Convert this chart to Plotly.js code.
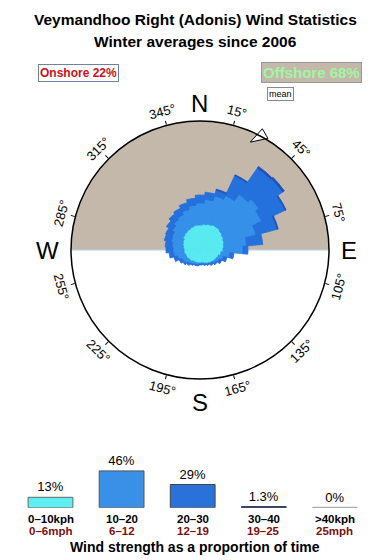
<!DOCTYPE html>
<html><head><meta charset="utf-8">
<script src="https://cdn.plot.ly/plotly-3.0.1.min.js"></script>
<style>html,body{margin:0;padding:0;background:#fff}#chart{width:390px;height:560px}</style>
</head><body><div id="chart"></div>
<script>
// ---- data ----
const directions = [0,10,20,30,40,50,60,70,80,90,100,110,120,130,140,150,160,170,180,190,200,210,220,230,240,250,260,270,280,290,300,310,320,330,340,350];
const band0_10  = [25,26,27,28,28,27,26,25,24,23,21,19,18,17,16,15,14,13,13,13,13,13,14,14,15,15,16,16,17,18,19,21,22,23,24,25];
const band10_20 = [22,25,29,32,40,45,42,33,23,20,9,5,3,2,1,1,1,1,1,2,2,3,3,5,5,8,10,11,11,12,12,13,15,16,18,20];
const band20_30 = [8,7,6,22,32,29,26,22,16,5,4,4,3,2,2,1,1,1,1,1,1,1,2,2,3,4,5,7,7,7,7,7,7,7,7,7];
const band30_40 = [0,0,1,1,2,2,1,1,0,0,0,0,0,0,0,0,0,0,0,0,0,0,0,0,0,0,0,0,0,0,0,0,0,0,0,0];
const meanArrowPosition = 25;   // degrees, where the mean marker sits on the rim
const meanArrowHeading = 240;   // degrees, direction the marker points
const speedLabels = ['0–10kph','10–20','20–30','30–40','>40kph'];
const speedLabelsMph = ['0–6mph','6–12','12–19','19–25','25mph'];
const speedShares = [13,46,29,1.3,0];
const speedShareText = ['13%','46%','29%','1.3%','0%'];
const onshorePct = 22, offshorePct = 68;
const degreeTicks = [15,45,75,105,135,165,195,225,255,285,315,345];

// ---- geometry helpers ----
const W=390,H=560, CX=200, CY=250, R=129;
const px = x => x/W, py = y => 1 - y/H;
const bandColors = ['#58eaf0','#3590ea','#2470dc','#1f50b8'];
const legendColors = ['#5ef0f0','#3a8fe6','#2a72d9','#1c2a50','#aaaaaa'];

const traces = [];
[band0_10,band10_20,band20_30,band30_40].forEach((b,i)=>{
  traces.push({type:'barpolar', r:b, theta:directions, width:10, subplot:'polar',
    marker:{color:bandColors[i], line:{width:0.8, color:bandColors[i]}}, hoverinfo:'skip', showlegend:false});
});
traces.push({type:'scatterpolar', r:[R-10], theta:[meanArrowPosition], mode:'markers', subplot:'polar',
  marker:{symbol:'arrow', angle:meanArrowHeading, size:18, color:'#ffffff', line:{color:'#000',width:1}},
  showlegend:false, hoverinfo:'skip'});

// legend bars
const xs = speedShares.map((_,i)=>i);
traces.push({type:'bar', x:xs, y:speedShares, xaxis:'x2', yaxis:'y2', width:0.63,
  marker:{color:legendColors, line:{color:['#666','#555','#444','#1c2a50','#aaa'], width:1}},
  text:speedShareText, textposition:'outside', cliponaxis:false,
  textfont:{size:13, color:'#000', family:'Liberation Sans, Arial, sans-serif'},
  showlegend:false, hoverinfo:'skip'});
speedShares.forEach((v,i)=>{ if(v===0){
  traces.push({type:'scatter', x:[i-0.315,i+0.315], y:[v,v], mode:'lines', xaxis:'x2', yaxis:'y2',
    line:{color:'#aaaaaa', width:2}, showlegend:false, hoverinfo:'skip'});
}});

const ann = [];
const F = 'Liberation Sans, Arial, sans-serif';
function A(o){ ann.push(Object.assign({xref:'paper', yref:'paper', showarrow:false, xanchor:'center', yanchor:'middle'}, o)); }
A({text:'<b>Veymandhoo Right (Adonis) Wind Statistics</b>', x:px(195), y:py(20), font:{size:15.5,family:F,color:'#000'}});
A({text:'<b>Winter averages since 2006</b>', x:px(195), y:py(42), font:{size:15.5,family:F,color:'#000'}});
A({text:'<b>Onshore '+onshorePct+'%</b>', x:px(78), y:py(73), font:{size:12,family:F,color:'#cc1020'}, bgcolor:'#fff', bordercolor:'#7080a0', borderwidth:1, borderpad:1});
A({text:'<b>Offshore '+offshorePct+'%</b>', x:px(311), y:py(73), font:{size:15,family:F,color:'#a2f5a2'}, bgcolor:'#c4b8ab', bordercolor:'#999', borderwidth:1, borderpad:1});
A({text:'mean', x:px(280), y:py(94), font:{size:9,family:F,color:'#000'}, bgcolor:'#fff', bordercolor:'#888', borderwidth:1, borderpad:1});
[['N',200,103],['E',349,251],['W',47,251],['S',200,402]].forEach(c=>{
  A({text:c[0], x:px(c[1]), y:py(c[2]), font:{size:24,family:F,color:'#000'}});
});
degreeTicks.forEach(a=>{
  const rad=a*Math.PI/180, rr=R+14;
  A({text:a+'°', x:px(CX+rr*Math.sin(rad)), y:py(CY-rr*Math.cos(rad)), textangle:((a+90)%180)-90, font:{size:13,family:F,color:'#000'}});
});
speedLabels.forEach((t,i)=>{
  A({text:'<b>'+t+'</b>', x:i, xref:'x2', y:py(518.5), font:{size:11.5,family:F,color:'#000'}});
  A({text:'<b>'+speedLabelsMph[i]+'</b>', x:i, xref:'x2', y:py(531), font:{size:11.5,family:F,color:'#7a1010'}});
});
A({text:'<b>Wind strength as a proportion of time</b>', x:px(195), y:py(547), font:{size:14,family:F,color:'#000'}});

const shapes = [
  {type:'circle', xref:'paper', yref:'paper', x0:px(CX-R), x1:px(CX+R), y0:py(CY+R), y1:py(CY-R), fillcolor:'#c4b8ab', line:{width:0}, layer:'below'},
  {type:'rect', xref:'paper', yref:'paper', x0:px(CX-R-2), x1:px(CX+R+2), y0:py(CY+R+2), y1:py(CY), fillcolor:'#ffffff', line:{width:0}, layer:'below'},
  {type:'line', xref:'paper', yref:'paper', x0:px(CX-R), x1:px(CX+R), y0:py(CY), y1:py(CY), line:{color:'#b4d2ea', width:1.2}, layer:'below'}
];

const layout = {
  width:W, height:H, margin:{l:0,r:0,t:0,b:0}, paper_bgcolor:'#fff', plot_bgcolor:'rgba(0,0,0,0)',
  showlegend:false, font:{family:F},
  polar:{domain:{x:[px(CX-R),px(CX+R)], y:[py(CY+R),py(CY-R)]}, bgcolor:'rgba(0,0,0,0)', barmode:'stack', bargap:0,
    radialaxis:{range:[0,R], visible:false},
    angularaxis:{rotation:90, direction:'clockwise', showgrid:false, linecolor:'#000', linewidth:1.5,
      tickmode:'array', tickvals:degreeTicks, ticks:'outside', ticklen:4, tickcolor:'#000', showticklabels:false}},
  xaxis2:{domain:[0,1], range:[-50.5/71.1,(390-50.5)/71.1], visible:false, anchor:'y2', fixedrange:true},
  yaxis2:{domain:[py(507.7),py(507.7)+48/H], range:[0,60], visible:false, anchor:'x2', fixedrange:true},
  annotations:ann, shapes:shapes
};
Plotly.newPlot('chart', traces, layout, {staticPlot:true, displayModeBar:false});
</script></body></html>
